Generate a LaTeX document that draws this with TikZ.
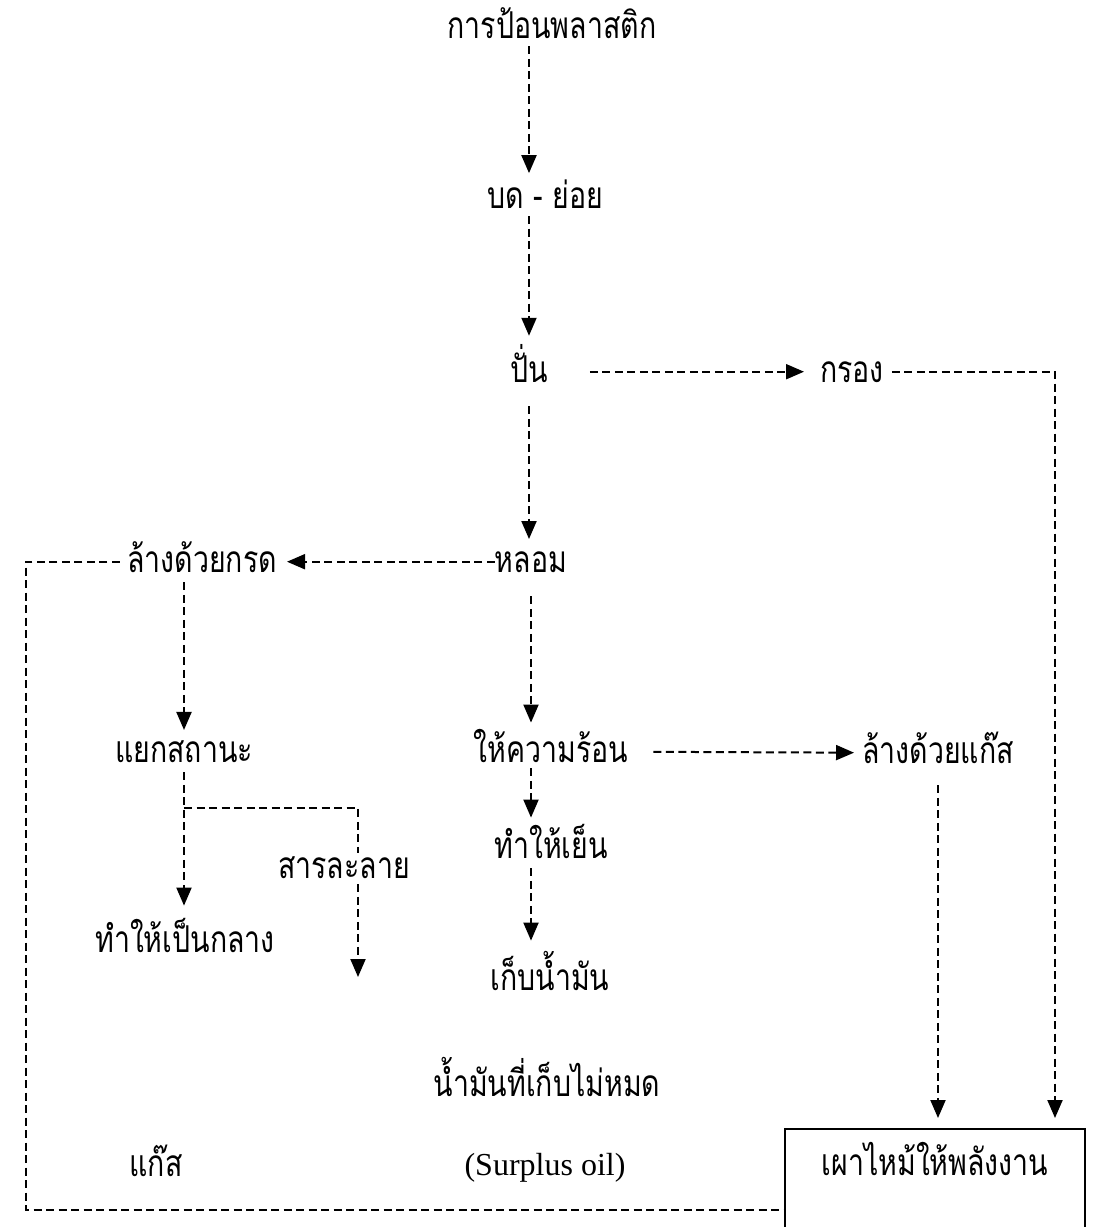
\documentclass[tikz,border=0pt]{standalone}
\usepackage{fontspec}
\usepackage{tikz}
\usetikzlibrary{arrows.meta}
\setmainfont{Liberation Serif}
\newfontfamily\thaifont[Script=Thai,FakeStretch=0.77]{Loma}

\begin{document}
\begin{tikzpicture}[x=1pt, y=-1pt,
  stage/.style={font=\thaifont\fontsize{37}{44}\selectfont, inner sep=0pt, anchor=base},
  link/.style={dash pattern=on 8pt off 4.5pt, line width=2pt},
  flow/.style={link, -{Triangle[length=18pt,width=15pt]}}]

  \useasboundingbox (0,0) rectangle (1096,1227);

  % Main column
  \node[stage] (feed) at (552,38) {การป้อนพลาสติก};
  \node[stage] (crush) at (545,208) {บด - ย่อย};
  \node[stage] (spin) at (529,382) {ปั่น};
  \node[stage] (melt) at (531,572) {หลอม};
  \node[stage] (heat) at (551,762) {ให้ความร้อน};
  \node[stage] (cool) at (551,858) {ทำให้เย็น};
  \node[stage] (store) at (550,990) {เก็บน้ำมัน};
  \node[stage] (rest) at (547,1096) {น้ำมันที่เก็บไม่หมด};
  \node[inner sep=0pt, anchor=base, font=\fontsize{32}{38}\selectfont] (surplus) at (545,1175) {(Surplus oil)};

  % Side branches
  \node[stage] (filt) at (852,382) {กรอง};
  \node[stage] (acid) at (202,572) {ล้างด้วยกรด};
  \node[stage] (phase) at (184,762) {แยกสถานะ};
  \node[stage] (neut) at (185,952) {ทำให้เป็นกลาง};
  \node[stage] (gaswash) at (938,763) {ล้างด้วยแก๊ส};
  \node[stage] (gas) at (156,1176) {แก๊ส};

  % Burner
  \node[draw, line width=2pt, anchor=north, minimum width=300pt, inner xsep=0pt, inner ysep=0pt,
        text height=46pt, text depth=60pt, font=\thaifont\fontsize{37}{44}\selectfont]
        (burn) at (935,1128) {เผาไหม้ให้พลังงาน};

  % Connectors
  \draw[flow, shorten <=8pt, shorten >=6pt] (feed.south -| spin) -- (crush.north -| spin);
  \draw[flow, shorten <=8pt, shorten >=8pt] (crush.south -| spin) -- (spin.north);
  \draw[flow, shorten <=42pt, shorten >=16pt] ([yshift=8pt]spin.mid east) -- ([yshift=8pt]filt.mid west);
  \draw[flow, shorten <=8pt, shorten >=10pt] ([yshift=8pt]filt.mid east) -| ([xshift=120pt]burn.north);
  \draw[flow, shorten <=24pt, shorten >=12pt] (spin.south) -- (melt.north -| spin);
  \draw[flow, shorten >=10pt] ([yshift=8pt]melt.mid west) -- ([yshift=8pt]acid.mid east);
  \draw[link, shorten <=7pt] ([yshift=8pt]acid.mid west) -- ++(-101,0) |- ([yshift=-28pt]burn.west);
  \draw[flow, shorten <=10pt, shorten >=10pt] (acid.south -| phase) -- (phase.north);
  \draw[flow, shorten <=10pt, shorten >=12pt] (phase.south) -- (neut.north -| phase);
  \draw[flow, shorten <=24pt, shorten >=6pt] (melt.south) -- (heat.north -| melt);
  \draw[flow, shorten <=25pt, shorten >=8pt] ([yshift=8pt]heat.mid east) -- ([yshift=8pt]gaswash.mid west);
  \draw[flow, shorten <=22pt, shorten >=10pt] (gaswash.south) -- (gaswash.south |- burn.north);
  \draw[flow, shorten <=6pt, shorten >=6pt] (heat.south -| melt) -- (cool.north -| melt);
  \draw[flow, shorten <=10pt, shorten >=10pt] (cool.south -| melt) -- (store.north -| melt);

  % Solvent branch off the phase split
  \coordinate (split) at ([yshift=-46pt]phase.south);
  \coordinate (solvend) at (358,977);
  \draw[flow] (split) -| (solvend);
  \node[stage, fill=white, inner sep=3pt] (solv) at (344,878) {สารละลาย};

\end{tikzpicture}
\end{document}
